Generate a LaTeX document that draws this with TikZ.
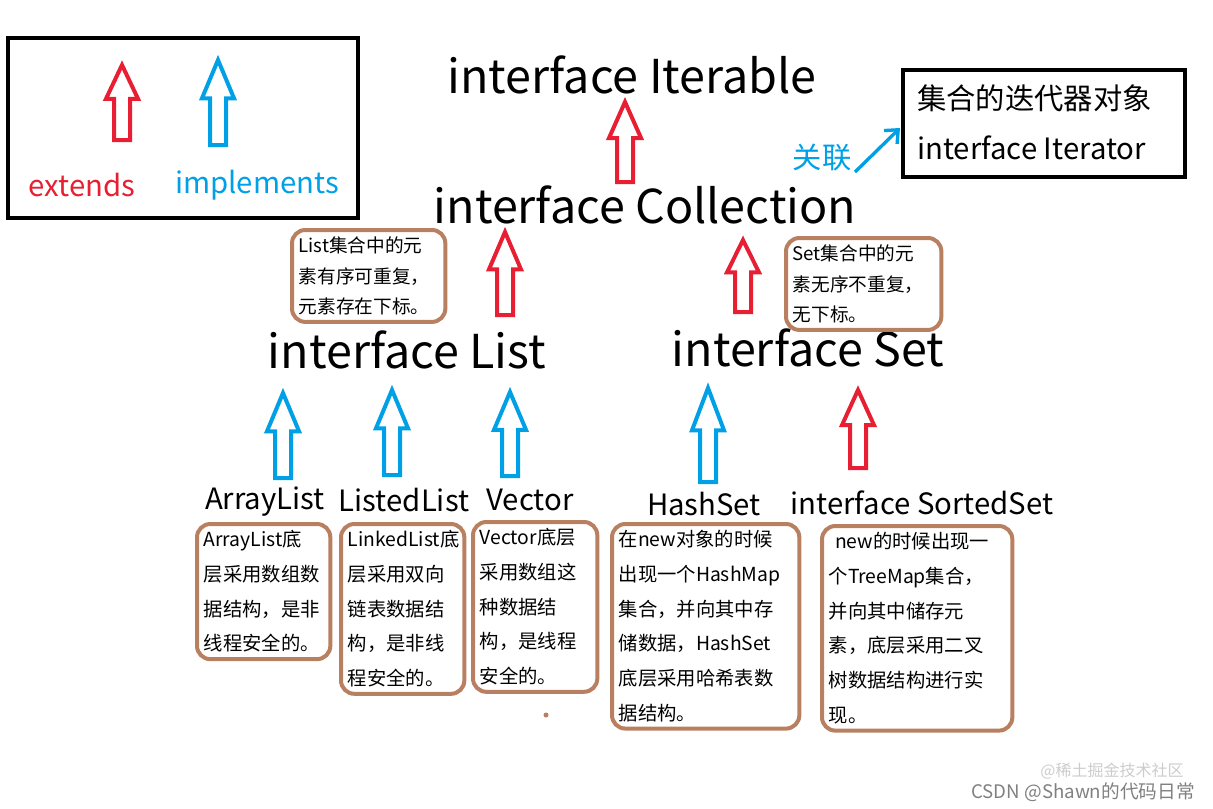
\documentclass[tikz,border=0pt]{standalone}
\usepackage{fontspec}
\usetikzlibrary{arrows.meta}
\setmainfont{Noto Sans CJK SC}
\definecolor{ered}{RGB}{232,30,50}
\definecolor{iblue}{RGB}{0,160,230}
\definecolor{brn}{RGB}{184,128,96}
\newcommand\hollowarrow[4]{%
  \pgfmathsetmacro\hh{0.45*(#4-#3)}%
  \draw[#1,line width=3pt,line join=miter] (#2,#3) -- (#2+16,#3+\hh) -- (#2+8,#3+\hh) -- (#2+8,#4) -- (#2-8,#4) -- (#2-8,#3+\hh) -- (#2-16,#3+\hh) -- cycle;}
\tikzset{
  big/.style={font=\fontsize{35}{40}\selectfont,inner sep=0pt},
  mid/.style={font=\fontsize{22}{26}\selectfont,inner sep=0pt},
  note/.style={draw=brn,line width=3pt,rounded corners=10pt,align=left,anchor=north west,font=\fontsize{14.5}{26}\selectfont,inner sep=5pt,text width=#1},
}
\begin{document}
\begin{tikzpicture}[x=0.75pt,y=-0.75pt]
\useasboundingbox (0,0) rectangle (1213,808);
% legend
\draw[line width=3pt] (8,38) rectangle (358,218);
\hollowarrow{ered}{122}{65}{140}
\hollowarrow{iblue}{218}{60}{145}
\node[mid,text=ered] (ext) at (82,185) {extends};
\node[mid,text=iblue] (imp) at (257,185) {implements};
% iterator box
\draw[line width=3pt] (903,70) rectangle (1185,177);
\node[anchor=west,font=\fontsize{22}{26}\selectfont,inner sep=0pt] (it1) at (917,98) {集合的迭代器对象};
\node[anchor=west,font=\fontsize{22}{26}\selectfont,inner sep=0pt] (it2) at (917,148) {interface Iterator};
\node[mid,text=iblue] (gl) at (822,158) {关联};
\coordinate (g1) at (855,172);
\draw[iblue,line width=2.5pt,-{Straight Barb[length=8pt,width=14pt]}] (g1) -- (900,128);
% main labels
\node[big] (iter) at (632,75) {interface Iterable};
\node[big] (coll) at (645,205) {interface Collection};
\node[big] (list) at (407,350) {interface List};
\node[big] (set) at (808,348) {interface Set};
\hollowarrow{ered}{625}{102}{182}
\hollowarrow{ered}{505}{232}{315}
\hollowarrow{ered}{743}{240}{312}
\node[note=140pt*0.75,font=\fontsize{14}{23}\selectfont] (ln) at (290,228) {List集合中的元\\素有序可重复，\\元素存在下标。};
\node[note=142pt*0.75,font=\fontsize{14}{23}\selectfont] (sn) at (784,236) {Set集合中的元\\素无序不重复，\\无下标。};
% implementations
\node[mid] (al) at (265,502) {ArrayList};
\node[mid] (ll) at (404,500) {ListedList};
\node[mid] (ve) at (530,500) {Vector};
\node[mid] (hs) at (704,504) {HashSet};
\node[mid] (ss) at (922,503) {interface SortedSet};
\hollowarrow{iblue}{283}{393}{478}
\hollowarrow{iblue}{392}{390}{475}
\hollowarrow{iblue}{510}{392}{476}
\hollowarrow{iblue}{708}{388}{482}
\hollowarrow{ered}{858}{390}{468}
\node[note=120pt*0.75] (aln) at (195,522) {ArrayList底\\层采用数组数\\据结构，是非\\线程安全的。};
\node[note=110pt*0.75] (lln) at (339,522) {LinkedList底\\层采用双向\\链表数据结\\构，是非线\\程安全的。};
\node[note=111pt*0.75] (ven) at (471,520) {Vector底层\\采用数组这\\种数据结\\构，是线程\\安全的。};
\node[note=174pt*0.75] (hsn) at (610,522) {在new对象的时候\\出现一个HashMap\\集合，并向其中存\\储数据，HashSet\\底层采用哈希表数\\据结构。};
\node[note=177pt*0.75] (ssn) at (820,524) {\ new的时候出现一\\个TreeMap集合，\\并向其中储存元\\素，底层采用二叉\\树数据结构进行实\\现。};
\fill[brn] (546,715) circle (2.5);
\node[text=gray!40,font=\fontsize{12}{14}\selectfont] (wm1) at (1112,771) {@稀土掘金技术社区};
\node[text=gray,font=\fontsize{14}{16}\selectfont] (wm2) at (1083,792) {CSDN @Shawn的代码日常};
\end{tikzpicture}
\end{document}
